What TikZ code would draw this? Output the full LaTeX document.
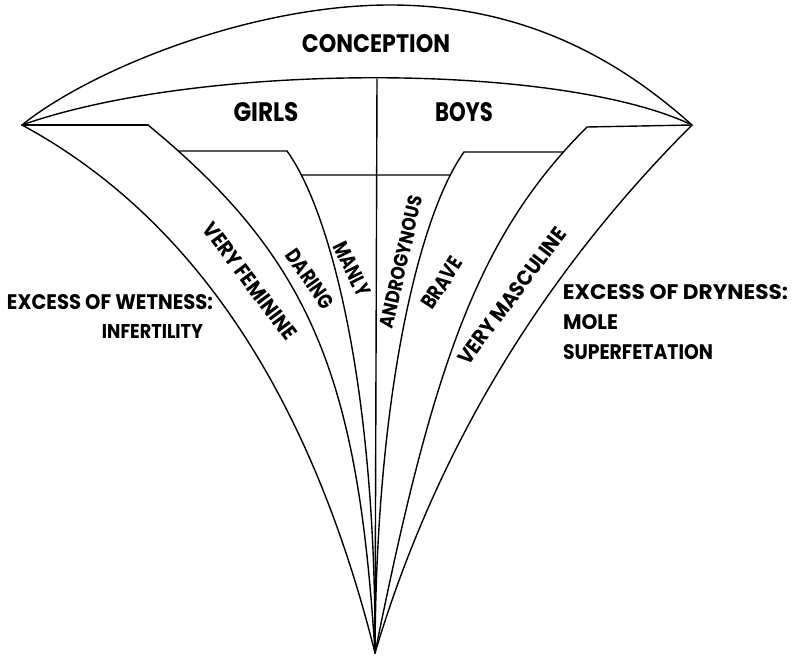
\documentclass[tikz,border=0pt]{standalone}
\usepackage{fontspec}
\setmainfont{Poppins}
\usepackage{graphicx}
\usetikzlibrary{intersections}
\newcommand{\fitlbl}[3]{\resizebox{#1pt}{#2pt}{\bfseries #3}}
\begin{document}
\begin{tikzpicture}[x=1pt,y=-1pt,line width=1.4pt,line join=round,line cap=round]
\tikzset{
  lbl/.style={inner sep=0pt,outer sep=0pt,text=black}
}
\useasboundingbox (0,0) rectangle (792,660);
\fill[white] (0,0) rectangle (792,660);
% key points
\coordinate (L) at (22,125);
\coordinate (R) at (692,125);
\coordinate (B) at (375,653);
\coordinate (Top) at (377,79);
\coordinate (bTop) at (148,125);
\coordinate (cTop) at (287,151);
\coordinate (dTop) at (464,152);
\coordinate (eTop) at (587,127);
% outer arcs
\draw (L) .. controls (90,70) and (250,5) .. (390,5) .. controls (530,5) and (625,65) .. (R);
\draw (L) .. controls (200,62) and (560,62) .. (R);
% centre line
\draw (Top) -- (B);
% curves from the top towards the bottom point
\draw (L) .. controls (192,217) and (310,393) .. (B);
\draw[name path=cB] (bTop) .. controls (312,260) and (358,378) .. (B);
\draw[name path=cC] (cTop) .. controls (331,212) and (376,388) .. (B);
\draw[name path=cD] (dTop) .. controls (421,212) and (376,388) .. (B);
\draw[name path=cE] (eTop) .. controls (480,234) and (434,359) .. (B);
\draw (R) .. controls (541,276) and (435,452) .. (B);
% horizontal steps
\path[name path=h1] (100,151) -- (300,151);
\path[name path=h2] (250,175) -- (500,175);
\path[name path=h3] (450,152) -- (620,152);
\path[name intersections={of=cB and h1,by=jB}];
\path[name intersections={of=cC and h2,by=jC}];
\path[name intersections={of=cD and h2,by=jD}];
\path[name intersections={of=cE and h3,by=jE}];
\draw (L) -- (bTop);
\draw (jB) -- (cTop);
\draw (jC) -- (jD);
\draw (dTop) -- (jE);
\draw (eTop) -- (R);
% labels
\node[lbl] (conc) at (376,44) {\fitlbl{148}{18}{CONCEPTION}};
\node[lbl] (girls) at (266,112.5) {\fitlbl{65}{19}{GIRLS}};
\node[lbl] (boys) at (464,112.5) {\fitlbl{58}{19}{BOYS}};
\node[lbl] (wet) at (110,302.5) {\fitlbl{206}{15}{EXCESS OF WETNESS:}};
\node[lbl] (infert) at (152.5,331) {\fitlbl{101}{14}{INFERTILITY}};
\node[lbl] (dry) at (675.5,292.5) {\fitlbl{225}{15}{EXCESS OF DRYNESS:}};
\node[lbl] (mole) at (590.5,322.5) {\fitlbl{55}{15}{MOLE}};
\node[lbl] (superf) at (638,352.5) {\fitlbl{150}{15}{SUPERFETATION}};
\node[lbl,rotate=-53] (vfem) at (250,281) {\fitlbl{140}{15}{VERY FEMININE}};
\node[lbl,rotate=-55] (daring) at (310,279) {\fitlbl{67}{15}{DARING}};
\node[lbl,rotate=-64] (manly) at (352,269) {\fitlbl{58}{15}{MANLY}};
\node[lbl,rotate=77] (andro) at (401,262) {\fitlbl{135}{14}{ANDROGYNOUS}};
\node[lbl,rotate=57] (brave) at (442,283) {\fitlbl{57}{15}{BRAVE}};
\node[lbl,rotate=53] (vmasc) at (512,296) {\fitlbl{165}{15}{VERY MASCULINE}};
\end{tikzpicture}
\end{document}
